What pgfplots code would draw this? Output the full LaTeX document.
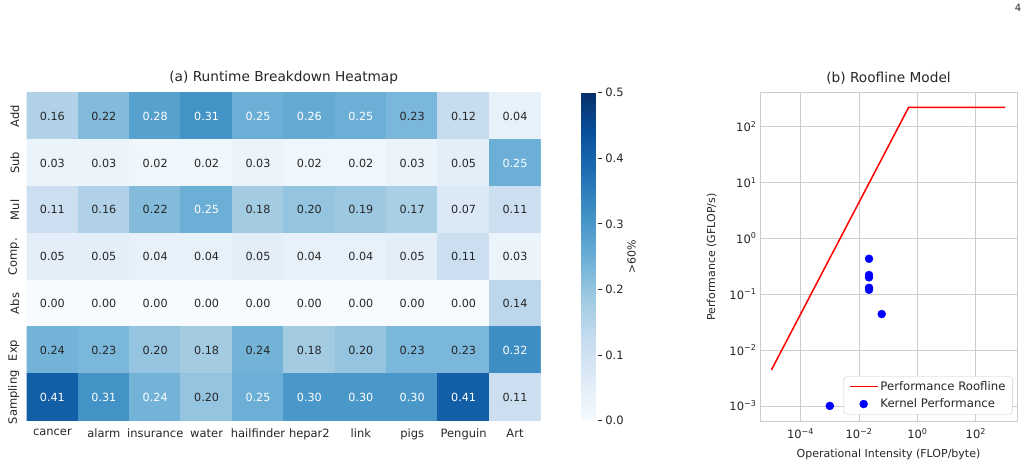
\documentclass[border=0pt]{standalone}
\usepackage{pgfplots}
\pgfplotsset{compat=1.18}
\usepackage{pgfplotstable}
\usepackage{fontspec}
\setmainfont{DejaVu Sans}
\definecolor{txt}{HTML}{262626}
\definecolor{gridc}{HTML}{CCCCCC}
\pgfplotsset{
  colormap={sblues}{rgb255(0)=(247,251,255) rgb255(1)=(222,235,247) rgb255(2)=(198,219,239) rgb255(3)=(158,202,225) rgb255(4)=(107,174,214) rgb255(5)=(66,146,198) rgb255(6)=(33,113,181) rgb255(7)=(8,81,156) rgb255(8)=(8,48,107)},
  /pgf/number format/assume math mode=true,
  longline legend/.style={legend image code/.code={\draw[##1] (0pt,0pt) -- (28pt,0pt);}},
  dot legend/.style={legend image code/.code={\draw[##1] plot coordinates {(14pt,0pt)};}},
}
% x = dataset, y = operation (0=Add ... 6=Sampling), v = share, w = 1 if label is white
\pgfplotstableread{
x y v w
0 0 0.16 0
1 0 0.22 0
2 0 0.28 1
3 0 0.31 1
4 0 0.25 1
5 0 0.26 1
6 0 0.25 1
7 0 0.23 0
8 0 0.12 0
9 0 0.04 0
0 1 0.03 0
1 1 0.03 0
2 1 0.02 0
3 1 0.02 0
4 1 0.03 0
5 1 0.02 0
6 1 0.02 0
7 1 0.03 0
8 1 0.05 0
9 1 0.25 1
0 2 0.11 0
1 2 0.16 0
2 2 0.22 0
3 2 0.25 1
4 2 0.18 0
5 2 0.20 0
6 2 0.19 0
7 2 0.17 0
8 2 0.07 0
9 2 0.11 0
0 3 0.05 0
1 3 0.05 0
2 3 0.04 0
3 3 0.04 0
4 3 0.05 0
5 3 0.04 0
6 3 0.04 0
7 3 0.05 0
8 3 0.11 0
9 3 0.03 0
0 4 0.00 0
1 4 0.00 0
2 4 0.00 0
3 4 0.00 0
4 4 0.00 0
5 4 0.00 0
6 4 0.00 0
7 4 0.00 0
8 4 0.00 0
9 4 0.14 0
0 5 0.24 0
1 5 0.23 0
2 5 0.20 0
3 5 0.18 0
4 5 0.24 0
5 5 0.18 0
6 5 0.20 0
7 5 0.23 0
8 5 0.23 0
9 5 0.32 1
0 6 0.41 1
1 6 0.31 1
2 6 0.24 1
3 6 0.20 0
4 6 0.25 1
5 6 0.30 1
6 6 0.30 1
7 6 0.30 1
8 6 0.41 1
9 6 0.11 0
}\heat
\pgfplotstableread{
oi perf
1e-5 0.0044
0.5 220
1000 220
}\roofdata
\pgfplotstableread{
oi perf
0.001 0.001
0.022 0.43
0.022 0.22
0.022 0.20
0.022 0.13
0.022 0.12
0.06 0.044
}\kerneldata
\begin{document}
\begin{tikzpicture}
\path[use as bounding box] (0,0) rectangle (1032pt,465pt);
\node[text=txt, font=\fontsize{10}{12}\selectfont] at (1018pt,457pt) {4};
\begin{axis}[
  scale only axis, width=514pt, height=328pt,
  at={(26.7pt,44.3pt)}, anchor=south west,
  xmin=-0.5, xmax=9.5, ymin=-0.5, ymax=6.5, y dir=reverse,
  axis line style={draw=none}, tick style={draw=none},
  xtick={0,...,9},
  xticklabels={cancer,alarm,insurance,water,hailfinder,hepar2,link,pigs,Penguin,Art},
  ytick={0,...,6},
  yticklabels={Add,Sub,Mul,Comp.,Abs,Exp,Sampling},
  tick label style={text=txt, font=\fontsize{11.5}{13}\selectfont},
  yticklabel style={rotate=90, anchor=south, yshift=4pt},
  xticklabel style={yshift=-5pt},
  colormap name=sblues,
  point meta min=0, point meta max=0.5,
  title={(a) Runtime Breakdown Heatmap},
  title style={text=txt, font=\fontsize{13.7}{16}\selectfont, at={(0.5,1)}, anchor=south, yshift=-1pt},
  colorbar,
  colorbar style={
    at={(parent axis.north east)}, anchor=north west, xshift=32pt,
    width=17pt,
    ytick={0,0.1,0.2,0.3,0.4,0.5},
    yticklabel style={text=txt, font=\fontsize{11.5}{13}\selectfont, /pgf/number format/.cd, fixed, fixed zerofill, precision=1},
    axis line style={draw=none},
    ytick style={draw=txt, line width=0.8pt},
    major tick length=3.5pt, tick align=outside,
    ytick pos=right, yticklabel pos=right,
    ylabel={>60\%}, ylabel near ticks,
    ylabel style={text=txt, font=\fontsize{11}{13}\selectfont, yshift=3pt},
  },
]
\addplot[matrix plot, mesh/cols=10, point meta=\thisrow{v}, faceted color=white, line width=1.2pt] table[x=x, y=y] {\heat};
\addplot[draw=none, mark=none, point meta=\thisrow{v},
  restrict expr to domain={\thisrow{w}}{-0.5:0.5},
  nodes near coords={\pgfmathprintnumber[fixed,fixed zerofill,precision=2]{\pgfplotspointmeta}},
  nodes near coords align=center,
  every node near coord/.append style={text=txt, font=\fontsize{11.2}{13}\selectfont, anchor=center}]
  table[x=x, y=y] {\heat};
\addplot[draw=none, mark=none, point meta=\thisrow{v},
  restrict expr to domain={\thisrow{w}}{0.5:1.5},
  nodes near coords={\pgfmathprintnumber[fixed,fixed zerofill,precision=2]{\pgfplotspointmeta}},
  nodes near coords align=center,
  every node near coord/.append style={text=white, font=\fontsize{11.2}{13}\selectfont, anchor=center}]
  table[x=x, y=y] {\heat};
\end{axis}
\begin{axis}[
  scale only axis, width=257pt, height=328pt,
  at={(760pt,44pt)}, anchor=south west,
  xmode=log, ymode=log,
  xmin=4.07e-6, xmax=2570, ymin=5.37e-4, ymax=398,
  xtick={1e-4,1e-2,1,100},
  xticklabels={10\textsuperscript{−4},10\textsuperscript{−2},10\textsuperscript{0},10\textsuperscript{2}},
  ytick={1e-3,1e-2,1e-1,1,10,100},
  yticklabels={10\textsuperscript{−3},10\textsuperscript{−2},10\textsuperscript{−1},10\textsuperscript{0},10\textsuperscript{1},10\textsuperscript{2}},
  xminorticks=false, yminorticks=false,
  tick style={draw=none},
  grid=major, grid style={draw=gridc, line width=0.8pt},
  axis line style={draw=gridc, line width=1pt},
  tick label style={text=txt, font=\fontsize{11.5}{13}\selectfont},
  xticklabel style={yshift=-4pt},
  xlabel={Operational Intensity (FLOP/byte)},
  ylabel={Performance (GFLOP/s)},
  xlabel style={yshift=-3pt},
  ylabel style={yshift=6pt},
  label style={text=txt, font=\fontsize{11}{13}\selectfont},
  title={(b) Roofline Model},
  title style={text=txt, font=\fontsize{13.7}{16}\selectfont, at={(0.5,1)}, anchor=south, yshift=-1pt},
  legend style={at={(0.983,0.02)}, anchor=south east, draw=gridc, rounded corners=3pt, fill=white,
    font=\fontsize{11.7}{13}\selectfont, text=txt, row sep=3pt, inner xsep=5pt, inner ysep=3pt},
  legend cell align=left,
]
\addplot[red, line width=1.5pt, mark=none, longline legend] table[x=oi, y=perf] {\roofdata};
\addlegendentry{Performance Roofline}
\addplot[only marks, mark=*, mark size=4pt, color=blue, mark options={draw=blue, fill=blue}, dot legend] table[x=oi, y=perf] {\kerneldata};
\addlegendentry{Kernel Performance}
\end{axis}
\end{tikzpicture}
\end{document}
